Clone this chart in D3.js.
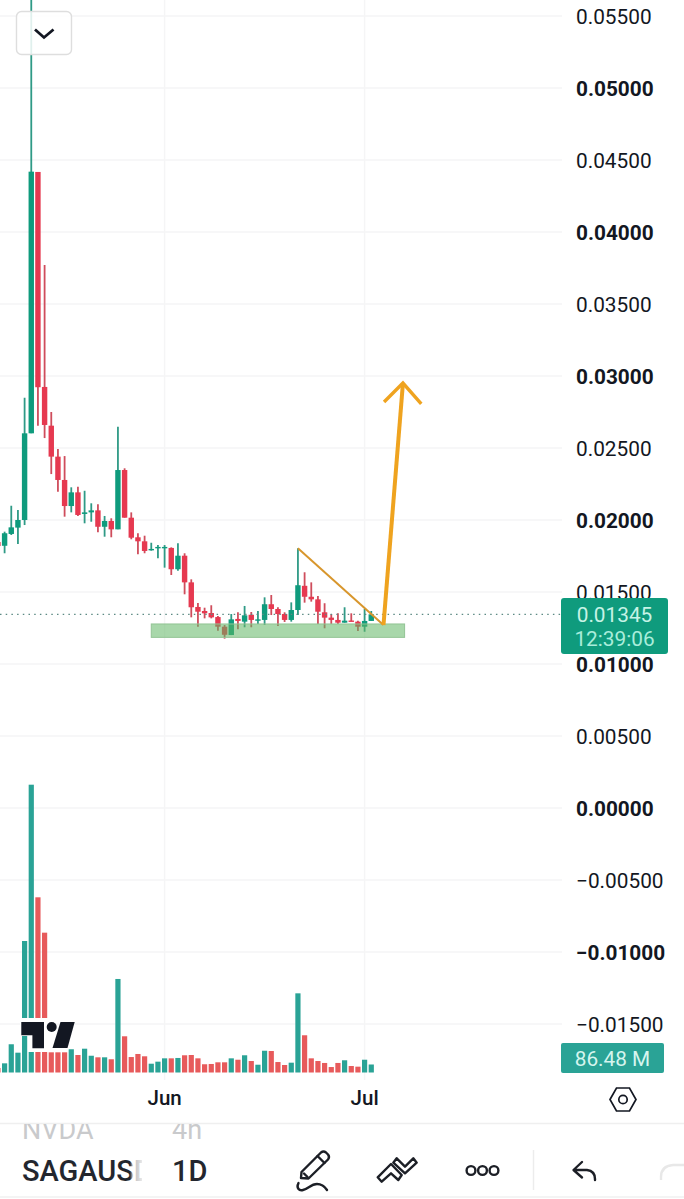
<!DOCTYPE html>
<html>
<head>
<meta charset="utf-8">
<script src="https://cdn.jsdelivr.net/npm/d3@7/dist/d3.min.js"></script>
<style>
html,body{margin:0;padding:0;background:#fff;overflow:hidden}
svg{display:block}
text{font-family:Roboto,sans-serif}
</style>
</head>
<body>
<svg id="chart" width="684" height="1199"></svg>
<script>
// SAGA/USD daily session, first candle 7 May, one entry per day
const firstDay = "2024-05-07";
const opens = [.01847,.01821,.01903,.01947,.02000,.02602,.04417,.02924,.02655,.02440,.02278,.02097,.02192,.02042,.02053,.02067,.01953,.01993,.01935,.02347,.02016,.01880,.01852,.01790,.01806,.01806,.01806,.01658,.01752,.01567,.01396,.01368,.01354,.01326,.01259,.01201,.01313,.01294,.01342,.01303,.01306,.01415,.01382,.01347,.01306,.01375,.01543,.01467,.01449,.01359,.01322,.01306,.01287,.01302,.01294,.01259,.01299];
const highs = [.01896,.01919,.02099,.02069,.02849,.05650,.04417,.03771,.02750,.02493,.02444,.02227,.02231,.02203,.02116,.02109,.02028,.02012,.02648,.02359,.02053,.01908,.01891,.01842,.01826,.01826,.01810,.01838,.01769,.01588,.01424,.01391,.01408,.01333,.01271,.01347,.01359,.01403,.01361,.01368,.01463,.01479,.01394,.01359,.01428,.01803,.01637,.01567,.01472,.01422,.01347,.01352,.01394,.01352,.01301,.01382,.01368];
const lows = [.01771,.01769,.01896,.01833,.01965,.02602,.02655,.02569,.02319,.02197,.02023,.02053,.02028,.01977,.01988,.01915,.01884,.01880,.01935,.02016,.01866,.01762,.01769,.01787,.01734,.01669,.01618,.01648,.01484,.01324,.01259,.01317,.01317,.01231,.01176,.01201,.01241,.01255,.01255,.01278,.01271,.01340,.01264,.01292,.01294,.01340,.01426,.01433,.01278,.01248,.01278,.01278,.01287,.01297,.01229,.01224,.01299];
const closes = [.01819,.01908,.01949,.02000,.02602,.04419,.02922,.02660,.02440,.02278,.02097,.02192,.02035,.02053,.02067,.01953,.01993,.01935,.02347,.02016,.01877,.01852,.01785,.01799,.01813,.01813,.01658,.01752,.01567,.01394,.01363,.01352,.01324,.01259,.01203,.01310,.01299,.01338,.01306,.01310,.01415,.01382,.01347,.01306,.01375,.01547,.01467,.01449,.01363,.01322,.01306,.01287,.01301,.01299,.01259,.01299,.01345];
// volume in millions of units
const volumes = [49,99,305,214,1420,3108,1892,1510,218,218,218,251,189,257,181,164,164,143,1010,391,167,200,175,95,117,153,153,157,186,189,153,89,92,110,110,153,138,186,124,84,235,232,113,81,106,855,402,153,124,103,59,103,132,70,63,138,86.48];
// direction of each volume bar: 1 rising, 0 falling
const volumeUp = [0,1,1,1,1,1,0,0,0,0,0,1,0,1,1,0,1,0,1,0,0,0,0,1,1,1,0,1,0,0,0,0,0,0,0,1,0,1,0,1,1,0,0,0,1,1,0,0,0,0,0,0,1,0,0,1,1];

const priceTicks = [.055,.05,.045,.04,.035,.03,.025,.02,.015,.01,.005,0,-.005,-.01,-.015];
const boldTicks = [.05,.04,.03,.02,.01,0,-.01];
const monthTicks = ["2024-06-01","2024-07-01"];
const monthLabels = ["Jun","Jul"];
const lastPrice = 0.01345, countdown = "12:39:06", volumeLabel = "86.48 M";

// drawing annotations: [date, price]
const zoneStart = "2024-05-30", zoneEnd = "2024-07-07", zoneTop = .01278, zoneBottom = .01185;
const trendLine = [["2024-06-21T00:00Z", .01803], ["2024-07-03T20:00Z", .01271]];
const arrowShaft = [["2024-07-03T20:00Z", .01271], ["2024-07-06T18:00Z", .02951]];
const arrowHead = [["2024-07-03T22:00Z", .02819], ["2024-07-06T18:00Z", .02951], ["2024-07-09T12:00Z", .02806]];

const day = s => new Date(s.length > 10 ? s : s + "T00:00Z");
const dates = opens.map((_, i) => d3.utcDay.offset(day(firstDay), i));

const svg = d3.select("#chart");
const x = d3.scaleUtc().domain([day("2024-06-01"), day("2024-07-01")]).range([164.6, 364.6]);
const y = d3.scaleLinear().domain([0, .05]).range([808, 88]);
const vol = d3.scaleLinear().domain([0, 3108]).range([1072.5, 784.7]);

const INK = "#131722", GRID = "#f5f5f6";
const UP = "#0f9b7d", DOWN = "#e63950", UPWICK = "#2f9a86", DOWNWICK = "#cf4d5c";
const VUP = "#2aa396", VDOWN = "#e75a5b";

// grid
svg.append("g").selectAll("line").data(priceTicks).join("line")
  .attr("x1", 0).attr("x2", 562).attr("y1", d => y(d)).attr("y2", d => y(d))
  .attr("stroke", GRID).attr("stroke-width", 1.5);
svg.append("g").selectAll("line").data(monthTicks).join("line")
  .attr("x1", d => x(day(d))).attr("x2", d => x(day(d))).attr("y1", 0).attr("y2", 1080)
  .attr("stroke", GRID).attr("stroke-width", 1.5);

// volume pane
svg.append("g").selectAll("rect").data(volumes).join("rect")
  .attr("x", (d, i) => x(dates[i]) - 2.6).attr("width", 5.2)
  .attr("y", d => vol(d)).attr("height", d => vol(0) - vol(d))
  .attr("fill", (d, i) => volumeUp[i] ? VUP : VDOWN);

// candles
const candles = svg.append("g");
candles.selectAll("line").data(dates).join("line")
  .attr("x1", d => x(d)).attr("x2", d => x(d))
  .attr("y1", (d, i) => y(highs[i])).attr("y2", (d, i) => y(lows[i]))
  .attr("stroke", (d, i) => closes[i] >= opens[i] ? UPWICK : DOWNWICK)
  .attr("stroke-width", 1.8);
candles.selectAll("rect").data(dates).join("rect")
  .attr("x", d => x(d) - 2.7).attr("width", 5.4)
  .attr("y", (d, i) => y(Math.max(opens[i], closes[i])))
  .attr("height", (d, i) => Math.max(1.4, Math.abs(y(opens[i]) - y(closes[i]))))
  .attr("fill", (d, i) => closes[i] >= opens[i] ? UP : DOWN);

// last price line
svg.append("line").attr("x1", 0).attr("x2", 562).attr("y1", y(lastPrice)).attr("y2", y(lastPrice))
  .attr("stroke", "#5c8a84").attr("stroke-width", 1.2).attr("stroke-dasharray", "1.5 4.2");

// support zone
svg.append("rect")
  .attr("x", x(day(zoneStart))).attr("width", x(day(zoneEnd)) - x(day(zoneStart)))
  .attr("y", y(zoneTop)).attr("height", y(zoneBottom) - y(zoneTop))
  .attr("fill", "rgba(96,182,100,.55)").attr("stroke", "#93c495").attr("stroke-width", 1);

// trend line and target arrow
const pathLine = d3.line().x(d => x(day(d[0]))).y(d => y(d[1]));
svg.append("path").attr("d", pathLine(trendLine)).attr("fill", "none")
  .attr("stroke", "#d8962c").attr("stroke-width", 2);
svg.append("path").attr("d", pathLine(arrowShaft)).attr("fill", "none")
  .attr("stroke", "#efa31f").attr("stroke-width", 4);
svg.append("path").attr("d", pathLine(arrowHead)).attr("fill", "none")
  .attr("stroke", "#efa31f").attr("stroke-width", 3.4);

// collapse button over the plot
svg.append("rect").attr("x", 16.5).attr("y", 11.5).attr("width", 55).attr("height", 43).attr("rx", 5)
  .attr("fill", "rgba(255,255,255,.85)").attr("stroke", "#dedede").attr("stroke-width", 1.4);
svg.append("path").attr("d", "M35 29.5L44 37.5L53.5 29.5").attr("fill", "none")
  .attr("stroke", INK).attr("stroke-width", 2.8);

// watermark with a white cut-out behind it
svg.append("path").attr("d", "M20 1018H48.5V1052H28V1036H20Z").attr("fill", "#fff");
svg.append("path").attr("fill", INK)
  .attr("d", "M21.3 1022H44V1048.3H32.4V1035.2H21.3Z");
svg.append("circle").attr("cx", 51.7).attr("cy", 1027).attr("r", 5).attr("fill", INK);
svg.append("path").attr("fill", INK).attr("d", "M60.5 1022H74.7L67.5 1048H52.5Z");

// price axis
const priceAxis = d3.axisRight(y).tickValues(priceTicks).tickSize(0).tickPadding(0).tickFormat(d3.format(".5f"));
const axisG = svg.append("g").attr("transform", "translate(576,0.6)").call(priceAxis);
axisG.select(".domain").remove();
axisG.selectAll("text")
  .attr("font-family", "Roboto, sans-serif").attr("font-size", 20.8).attr("fill", INK)
  .attr("font-weight", d => boldTicks.includes(d) ? 700 : 400);

// time axis
const timeAxis = d3.axisBottom(x).tickValues(monthTicks.map(day)).tickSize(0).tickPadding(0)
  .tickFormat((d, i) => monthLabels[i]);
const timeG = svg.append("g").attr("transform", "translate(-0.5,1090)").call(timeAxis);
timeG.select(".domain").remove();
timeG.selectAll("text")
  .attr("font-family", "Roboto, sans-serif").attr("font-size", 20.5).attr("font-weight", 500).attr("fill", INK);

// last price tag
svg.append("rect").attr("x", 561).attr("y", 598).attr("width", 107).attr("height", 56).attr("rx", 3).attr("fill", "#0f9b7d");
svg.append("text").attr("x", 614.5).attr("y", 621.5).attr("text-anchor", "middle").attr("font-size", 20.8)
  .attr("fill", "#c6f3e6").text(d3.format(".5f")(lastPrice));
svg.append("text").attr("x", 614.5).attr("y", 646).attr("text-anchor", "middle").attr("font-size", 20.8)
  .attr("fill", "#a9eddb").text(countdown);

// last volume tag
svg.append("rect").attr("x", 561).attr("y", 1043).attr("width", 103).attr("height", 30).attr("rx", 2).attr("fill", "#2aa396");
svg.append("text").attr("x", 612.5).attr("y", 1065.5).attr("text-anchor", "middle").attr("font-size", 20.8)
  .attr("fill", "#d6f5ee").text(volumeLabel);

// settings hexagon
svg.append("path").attr("d", "M610 1099.5L616.5 1088H629.5L636 1099.5L629.5 1111H616.5Z").attr("fill", "none")
  .attr("stroke", INK).attr("stroke-width", 1.7);
svg.append("circle").attr("cx", 623).attr("cy", 1099.5).attr("r", 4.2).attr("fill", "none")
  .attr("stroke", INK).attr("stroke-width", 1.7);

// toolbar
const defs = svg.append("defs");
defs.append("clipPath").attr("id", "rowClip").append("rect").attr("x", 0).attr("y", 1124).attr("width", 684).attr("height", 40);
defs.append("clipPath").attr("id", "symbolClip").append("rect").attr("x", 0).attr("y", 1150).attr("width", 142).attr("height", 45);
const fade = defs.append("linearGradient").attr("id", "symbolFade").attr("gradientUnits", "userSpaceOnUse")
  .attr("x1", 130).attr("x2", 142).attr("y1", 0).attr("y2", 0);
fade.append("stop").attr("offset", 0).attr("stop-color", "#23262e");
fade.append("stop").attr("offset", .2).attr("stop-color", "#23262e").attr("stop-opacity", .35);
fade.append("stop").attr("offset", 1).attr("stop-color", "#23262e").attr("stop-opacity", .1);

svg.append("line").attr("x1", 0).attr("x2", 684).attr("y1", 1123.5).attr("y2", 1123.5).attr("stroke", "#efefef").attr("stroke-width", 1.5);
svg.append("line").attr("x1", 0).attr("x2", 684).attr("y1", 1197).attr("y2", 1197).attr("stroke", "#f0f0f0").attr("stroke-width", 1.5);

const faded = svg.append("g").attr("clip-path", "url(#rowClip)").attr("fill", "#c9cacc").attr("font-size", 27);
faded.append("text").attr("x", 22).attr("y", 1138.5).text("NVDA");
faded.append("text").attr("x", 172).attr("y", 1138.5).text("4h");

svg.append("g").attr("clip-path", "url(#symbolClip)").append("text")
  .attr("x", 22).attr("y", 1181).attr("font-size", 29).attr("font-weight", 500)
  .attr("fill", "url(#symbolFade)").text("SAGAUSDT");
svg.append("text").attr("x", 172).attr("y", 1181).attr("font-size", 29).attr("font-weight", 500).attr("fill", "#23262e").text("1D");

const icon = svg.append("g").attr("fill", "none").attr("stroke", "#1c1f26").attr("stroke-width", 2.4)
  .attr("stroke-linejoin", "round").attr("stroke-linecap", "round");
// pencil with a scribble
icon.append("path").attr("d", "M301.5 1172L321 1152.5Q323.5 1150.5 326 1152.5L328 1154.5Q330 1157 328 1159.5L308.5 1178.5L301 1178Z");
icon.append("path").attr("d", "M317.5 1156L324.5 1163");
icon.append("path").attr("d", "M304 1173.5L307.5 1177");
icon.append("path").attr("d", "M298.5 1183C296 1188 299 1191 303 1190C308 1189 311 1184 317 1184C322 1184 325 1187 327 1190");
// double chevrons
icon.append("path").attr("d", "M377.7 1177.3L391 1164L401.7 1175L398.3 1180L391 1173.3L381.7 1181.7Z");
icon.append("path").attr("d", "M393.3 1162.7L396.7 1158.3L405 1166.7L413.3 1158.3L416.7 1162.7L405 1173.3Z");
// three dots
[471, 482.5, 494].forEach(cx => icon.append("circle").attr("cx", cx).attr("cy", 1170.5).attr("r", 4.4));
// divider
svg.append("line").attr("x1", 533.5).attr("x2", 533.5).attr("y1", 1150).attr("y2", 1190).attr("stroke", "#ececec").attr("stroke-width", 1.4);
// undo arrow
icon.append("path").attr("d", "M582 1162L573.5 1170L582 1177.5M574 1170H587Q595 1171 595 1179V1180");
// redo, disabled
svg.append("path").attr("d", "M661 1180V1177Q661 1166 673 1165H684").attr("fill", "none")
  .attr("stroke", "#e8e8e8").attr("stroke-width", 2.4);
</script>
</body>
</html>
